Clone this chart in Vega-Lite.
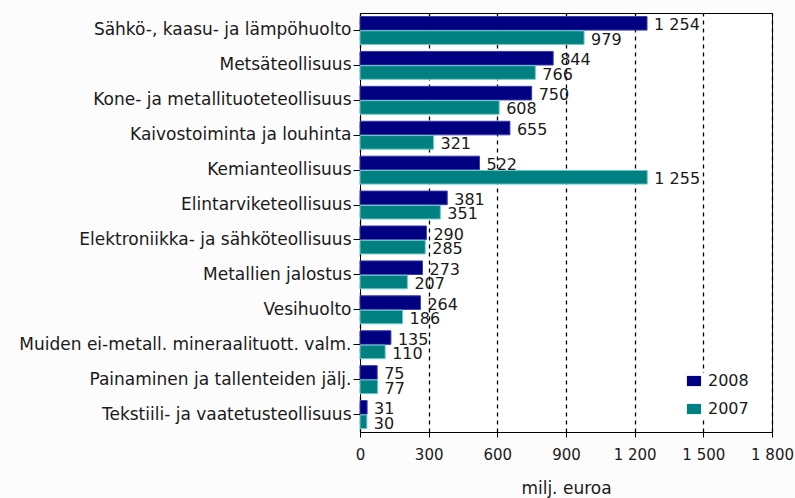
{
  "$schema": "https://vega.github.io/schema/vega-lite/v6.json",
  "width": 412,
  "height": 419,
  "autosize": {"type": "none"},
  "padding": {"left": 360, "top": 13, "right": 23, "bottom": 66},
  "background": "#fcfcfc",
  "config": {
    "locale": {"number": {"decimal": ",", "thousands": "\u00a0", "grouping": [3], "currency": ["", " €"]}},
    "view": {"stroke": "#000000", "strokeWidth": 1, "fill": "#ffffff"},
    "font": "DejaVu Sans"
  },
  "data": {
    "values": [
      {"toimiala": "Sähkö-, kaasu- ja lämpöhuolto", "vuosi": "2008", "arvo": 1254},
      {"toimiala": "Sähkö-, kaasu- ja lämpöhuolto", "vuosi": "2007", "arvo": 979},
      {"toimiala": "Metsäteollisuus", "vuosi": "2008", "arvo": 844},
      {"toimiala": "Metsäteollisuus", "vuosi": "2007", "arvo": 766},
      {"toimiala": "Kone- ja metallituoteteollisuus", "vuosi": "2008", "arvo": 750},
      {"toimiala": "Kone- ja metallituoteteollisuus", "vuosi": "2007", "arvo": 608},
      {"toimiala": "Kaivostoiminta ja louhinta", "vuosi": "2008", "arvo": 655},
      {"toimiala": "Kaivostoiminta ja louhinta", "vuosi": "2007", "arvo": 321},
      {"toimiala": "Kemianteollisuus", "vuosi": "2008", "arvo": 522},
      {"toimiala": "Kemianteollisuus", "vuosi": "2007", "arvo": 1255},
      {"toimiala": "Elintarviketeollisuus", "vuosi": "2008", "arvo": 381},
      {"toimiala": "Elintarviketeollisuus", "vuosi": "2007", "arvo": 351},
      {"toimiala": "Elektroniikka- ja sähköteollisuus", "vuosi": "2008", "arvo": 290},
      {"toimiala": "Elektroniikka- ja sähköteollisuus", "vuosi": "2007", "arvo": 285},
      {"toimiala": "Metallien jalostus", "vuosi": "2008", "arvo": 273},
      {"toimiala": "Metallien jalostus", "vuosi": "2007", "arvo": 207},
      {"toimiala": "Vesihuolto", "vuosi": "2008", "arvo": 264},
      {"toimiala": "Vesihuolto", "vuosi": "2007", "arvo": 186},
      {"toimiala": "Muiden ei-metall. mineraalituott. valm.", "vuosi": "2008", "arvo": 135},
      {"toimiala": "Muiden ei-metall. mineraalituott. valm.", "vuosi": "2007", "arvo": 110},
      {"toimiala": "Painaminen ja tallenteiden jälj.", "vuosi": "2008", "arvo": 75},
      {"toimiala": "Painaminen ja tallenteiden jälj.", "vuosi": "2007", "arvo": 77},
      {"toimiala": "Tekstiili- ja vaatetusteollisuus", "vuosi": "2008", "arvo": 31},
      {"toimiala": "Tekstiili- ja vaatetusteollisuus", "vuosi": "2007", "arvo": 30}
    ]
  },
  "encoding": {
    "y": {
      "field": "toimiala",
      "type": "nominal",
      "sort": null,
      "scale": {"paddingInner": 0.2, "paddingOuter": 0.1},
      "axis": {
        "title": null,
        "domainColor": "#000000",
        "tickColor": "#000000",
        "tickSize": 7,
        "labelFontSize": 17,
        "labelColor": "#1a1a1a",
        "labelPadding": 2,
        "labelLimit": 400
      }
    },
    "x": {
      "field": "arvo",
      "type": "quantitative",
      "scale": {"domain": [0, 1800], "nice": false},
      "axis": {
        "values": [0, 300, 600, 900, 1200, 1500, 1800],
        "format": ",d",
        "labelOverlap": false,
        "labelFlush": false,
        "title": "milj. euroa",
        "titleFontSize": 17,
        "titleFontWeight": "normal",
        "titleColor": "#1a1a1a",
        "titlePadding": 18,
        "labelFontSize": 15,
        "labelColor": "#1a1a1a",
        "labelPadding": 10,
        "domainColor": "#000000",
        "tickColor": "#000000",
        "tickSize": 5,
        "grid": true,
        "gridColor": "#000000",
        "gridDash": [4, 4],
        "gridWidth": 1.3,
        "gridOpacity": 1
      }
    },
    "yOffset": {"field": "vuosi", "type": "nominal", "sort": ["2008", "2007"], "scale": {"paddingInner": 0.05}}
  },
  "layer": [
    {
      "mark": {"type": "bar", "strokeWidth": 1},
      "encoding": {
        "color": {
          "field": "vuosi",
          "type": "nominal",
          "scale": {"domain": ["2008", "2007"], "range": ["#000080", "#008080"]},
          "legend": {
            "title": null,
            "orient": "none",
            "legendX": 326,
            "legendY": 360,
            "symbolType": "M-1,-0.72H1V0.72H-1Z",
            "symbolSize": 200,
            "symbolStrokeWidth": 0,
            "labelFontSize": 16,
            "labelColor": "#1a1a1a",
            "labelOffset": 6,
            "rowPadding": 12,
            "fillColor": "#ffffff"
          }
        },
        "stroke": {
          "field": "vuosi",
          "type": "nominal",
          "scale": {"domain": ["2008", "2007"], "range": ["#3a3ab0", "#70c8c8"]},
          "legend": null
        }
      }
    },
    {
      "mark": {"type": "text", "align": "left", "baseline": "middle", "dx": 7, "dy": 2, "fontSize": 16, "color": "#1a1a1a"},
      "encoding": {
        "text": {"field": "arvo", "type": "quantitative", "format": ",d"}
      }
    }
  ]
}
